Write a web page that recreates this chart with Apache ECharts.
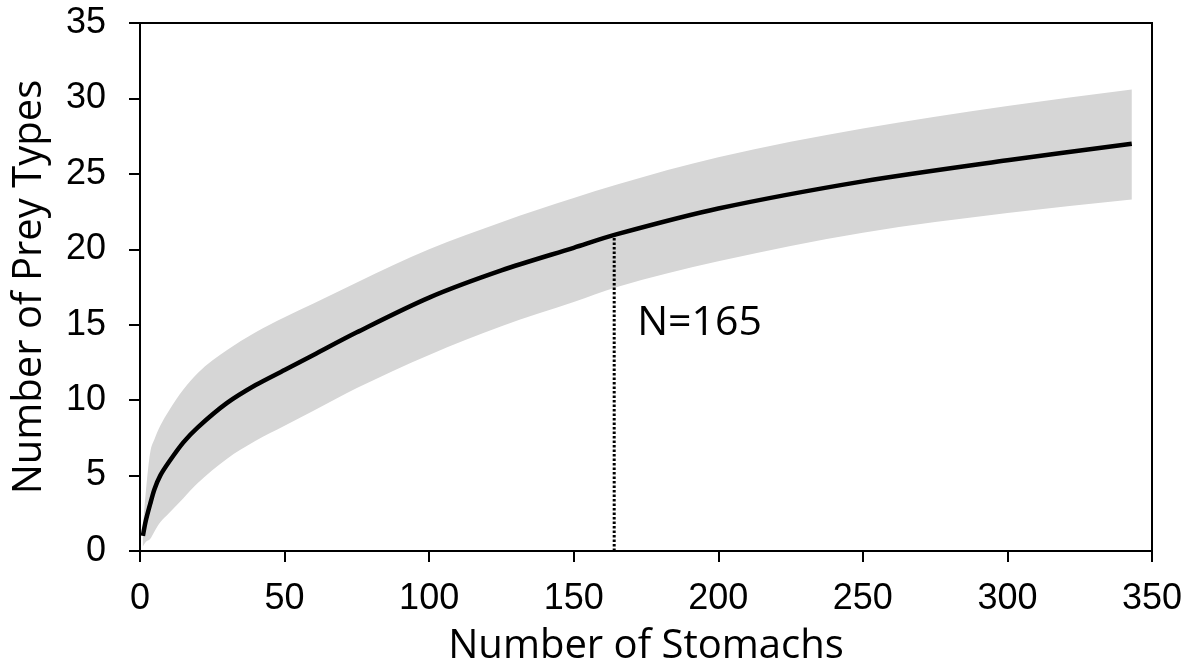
<!DOCTYPE html>
<html>
<head>
<meta charset="utf-8">
<title>Rarefaction curve</title>
<script src="https://cdn.jsdelivr.net/npm/echarts@6/dist/echarts.min.js"></script>
<style>
  html, body { margin: 0; padding: 0; background: #fff; }
  #chart { width: 1196px; height: 672px; }
</style>
</head>
<body>
<div id="chart"></div>
<script>
// number of stomachs sampled
var stomachs = [1, 2, 3.5, 5, 7, 10, 15, 20, 30, 40, 50, 60, 75, 100, 125, 150, 165, 200, 250, 300, 343];
// mean number of prey types
var preyMean = [1.0, 2.0, 3.1, 4.1, 5.0, 5.9, 7.2, 8.2, 9.8, 11.0, 12.0, 13.0, 14.5, 16.8, 18.6, 20.1, 21.0, 22.7, 24.5, 25.9, 27.0];
// confidence band
var preyUpper = [1.6, 3.9, 6.5, 7.4, 8.3, 9.3, 10.7, 11.8, 13.3, 14.5, 15.5, 16.4, 17.8, 20.0, 21.8, 23.4, 24.3, 26.1, 28.0, 29.5, 30.6];
var preyLower = [0.3, 0.6, 0.8, 1.3, 1.9, 2.5, 3.5, 4.5, 6.1, 7.3, 8.3, 9.3, 10.8, 13.0, 14.9, 16.5, 17.5, 19.2, 21.1, 22.4, 23.3];
// observed sample size marker (line drawn where it sits in the figure)
var sampleText = "N=165";
var sampleX = 164;
var sampleMean = 20.95;
var labelY = 15.1;

var chart = echarts.init(document.getElementById("chart"));

var tickFont = "'Liberation Sans', Arial, sans-serif";
var titleFont = "'Open Sans', 'Noto Sans', sans-serif";

// smooth curve through pixel points (monotone cubic), returns path commands
function curveThrough(pts) {
  var n = pts.length;
  var sec = [];
  for (var i = 0; i < n - 1; i++) {
    sec.push((pts[i + 1][1] - pts[i][1]) / (pts[i + 1][0] - pts[i][0]));
  }
  var m = [];
  for (var k = 0; k < n; k++) {
    if (k === 0) m.push(sec[0]);
    else if (k === n - 1) m.push(sec[n - 2]);
    else if (sec[k - 1] * sec[k] <= 0) m.push(0);
    else m.push((sec[k - 1] + sec[k]) / 2);
  }
  var d = "";
  for (var s = 0; s < n - 1; s++) {
    var p = pts[s], q = pts[s + 1];
    var dx = (q[0] - p[0]) / 3;
    d += " C " + (p[0] + dx) + " " + (p[1] + m[s] * dx) + " " +
      (q[0] - dx) + " " + (q[1] - m[s + 1] * dx) + " " + q[0] + " " + q[1];
  }
  return d;
}

var option = {
  animation: false,
  grid: {
    left: 140,
    right: 44,
    top: 23,
    bottom: 117,
    show: true,
    borderColor: "#000",
    borderWidth: 2,
  },
  xAxis: {
    type: "value",
    min: 0,
    max: 350,
    interval: 50,
    z: 10,
    name: "Number of Stomachs",
    nameLocation: "middle",
    nameGap: 76,
    nameTextStyle: { fontFamily: titleFont, fontSize: 40, color: "#000" },
    axisLine: { show: true, onZero: false, lineStyle: { color: "#000", width: 2 } },
    axisTick: { show: true, length: 11, lineStyle: { color: "#000", width: 2 } },
    axisLabel: { fontFamily: tickFont, fontSize: 36, color: "#000", margin: 30 },
    splitLine: { show: false },
  },
  yAxis: {
    type: "value",
    min: 0,
    max: 35,
    interval: 5,
    z: 10,
    name: "Number of Prey Types",
    nameLocation: "middle",
    nameGap: 90,
    nameTextStyle: { fontFamily: titleFont, fontSize: 40, color: "#000" },
    axisLine: { show: true, onZero: false, lineStyle: { color: "#000", width: 2 } },
    axisTick: { show: true, length: 11, lineStyle: { color: "#000", width: 2 } },
    axisLabel: { fontFamily: tickFont, fontSize: 36, color: "#000", margin: 34 },
    splitLine: { show: false },
  },
  series: [
    {
      // grey confidence band as one smooth closed path
      type: "custom",
      data: stomachs.map((x, i) => [x, preyLower[i], preyUpper[i]]),
      encode: { x: 0, y: [1, 2] },
      silent: true,
      z: 2,
      renderItem: function (params, api) {
        if (params.dataIndex !== 0) return null;
        var up = stomachs.map((x, i) => api.coord([x, preyUpper[i]]));
        var lo = stomachs.map((x, i) => api.coord([x, preyLower[i]])).reverse();
        var d = "M " + up[0][0] + " " + up[0][1] + curveThrough(up) +
          " L " + lo[0][0] + " " + lo[0][1] + curveThrough(lo) + " Z";
        return {
          type: "path",
          shape: { pathData: d },
          style: { fill: "#d6d6d6", stroke: null },
        };
      },
    },
    {
      type: "line",
      data: stomachs.map((x, i) => [x, preyMean[i]]),
      smooth: 0.3,
      showSymbol: false,
      lineStyle: { color: "#000", width: 4.5 },
      z: 5,
    },
    {
      // dotted line at the observed sample size
      type: "line",
      data: [[sampleX, 0], [sampleX, sampleMean]],
      showSymbol: false,
      lineStyle: { color: "#000", width: 3, type: [2.5, 2] },
      z: 6,
    },
    {
      type: "scatter",
      data: [[sampleX, labelY]],
      symbolSize: 0,
      itemStyle: { opacity: 1 },
      label: {
        show: true,
        position: "right",
        distance: 23,
        formatter: sampleText,
        fontFamily: titleFont,
        fontSize: 41,
        color: "#000",
        opacity: 1,
      },
      z: 7,
    },
  ],
};

chart.setOption(option);
</script>
</body>
</html>
